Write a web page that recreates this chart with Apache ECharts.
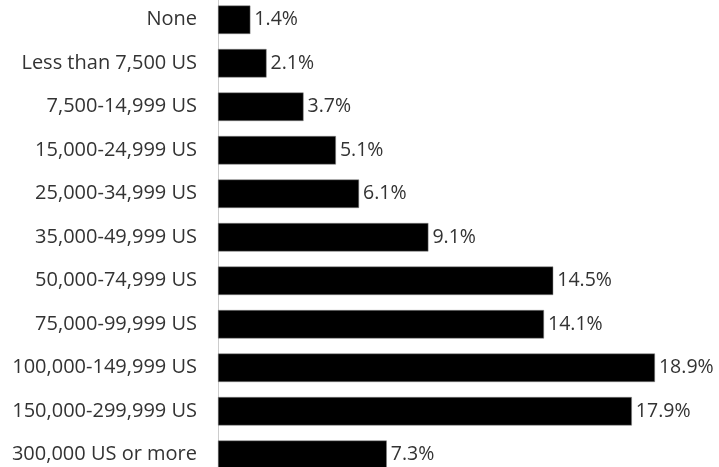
<!DOCTYPE html>
<html>
<head>
<meta charset="utf-8">
<script src="https://cdn.jsdelivr.net/npm/echarts@6/dist/echarts.min.js"></script>
<style>html,body{margin:0;padding:0;background:#fff;overflow:hidden;width:719px;height:467px;}#c{width:719px;height:480px;margin-top:-2px;}</style>
</head>
<body>
<div id="c"></div>
<script>
const categories = ["None","Less than 7,500 US","7,500-14,999 US","15,000-24,999 US","25,000-34,999 US","35,000-49,999 US","50,000-74,999 US","75,000-99,999 US","100,000-149,999 US","150,000-299,999 US","300,000 US or more"];
const values = [1.4,2.1,3.7,5.1,6.1,9.1,14.5,14.1,18.9,17.9,7.3];

const chart = echarts.init(document.getElementById('c'), null, {renderer:'canvas'});
chart.setOption({
  animation:false,
  grid:{left:218, top:0, width:462.4, height:478.5, containLabel:false},
  xAxis:{type:'value', min:0, max:20, show:false},
  yAxis:{type:'category', data:categories, inverse:true,
    axisLine:{show:true, lineStyle:{color:'#cccccc', width:1}},
    axisTick:{show:false},
    axisLabel:{color:'#333333', fontFamily:'Open Sans', fontSize:20, margin:21}
  },
  series:[{type:'bar', data:values, barWidth:28.5,
    itemStyle:{color:'#000000', borderColor:'#888888', borderWidth:0.5},
    label:{show:true, position:'right', distance:4, formatter:p=>p.value+'%', color:'#333333', fontFamily:'Open Sans', fontSize:19.5}
  }]
});
</script>
</body>
</html>
